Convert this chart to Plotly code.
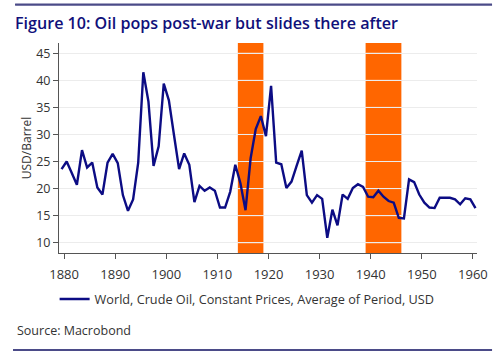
import plotly.graph_objects as go

years = list(range(1879, 1961))
oil_usd_per_barrel = [
    23.6, 25.0, 22.9, 20.7, 27.1, 23.9, 24.8, 20.2, 18.9, 24.8,   # 1879-1888
    26.4, 24.7, 18.8, 15.9, 18.0, 24.8, 41.5, 36.1, 24.2, 27.8,   # 1889-1898
    39.4, 36.3, 29.9, 23.6, 26.5, 24.4, 17.5, 20.5, 19.6, 20.2,   # 1899-1908
    19.6, 16.5, 16.5, 19.4, 24.4, 21.0, 16.0, 25.6, 31.0, 33.4,   # 1909-1918
    29.7, 39.0, 24.8, 24.5, 20.1, 21.3, 24.2, 27.0, 18.8, 17.4,   # 1919-1928
    18.8, 18.1, 10.9, 16.1, 13.2, 18.9, 18.1, 20.1, 20.8, 20.3,   # 1929-1938
    18.5, 18.4, 19.6, 18.5, 17.7, 17.4, 14.6, 14.5, 21.7, 21.2,   # 1939-1948
    18.9, 17.4, 16.5, 16.4, 18.3, 18.3, 18.3, 18.0, 17.1, 18.2,   # 1949-1958
    18.0, 16.4,                                                   # 1959-1960
]
war_periods = [(1914, 1919), (1939, 1946)]
x_tick_years = [1880, 1890, 1900, 1910, 1920, 1930, 1940, 1950, 1960]
y_tick_values = [10, 15, 20, 25, 30, 35, 40, 45]
series_name = "World, Crude Oil, Constant Prices, Average of Period, USD"

FONT = "Open Sans"
NAVY = "#10107a"
RULE = "#4b4b88"
GRID = "#ececec"

fig = go.Figure()
fig.add_trace(go.Scatter(
    x=[y + 0.5 for y in years], y=oil_usd_per_barrel, mode="lines",
    name=series_name, line=dict(color="#0c0c84", width=2.4),
))

for a, b in war_periods:
    fig.add_shape(type="rect", xref="x", yref="paper", x0=a, x1=b, y0=0, y1=1,
                  fillcolor="#ff6600", line_width=0, layer="below")
    # gridlines show through the shaded war periods
    for v in y_tick_values:
        fig.add_shape(type="line", xref="x", yref="y", x0=a, x1=b, y0=v, y1=v,
                      line=dict(color="rgba(255,255,255,0.85)", width=1), layer="below")

# top page rule (drawn as a thin filled annotation box) and bottom page rule
fig.add_annotation(text="", xref="paper", yref="paper", x=0.4653, y=1.1824,
                   xanchor="center", yanchor="middle", width=477, height=1,
                   bgcolor=RULE, borderpad=0, borderwidth=0, showarrow=False,
                   font=dict(size=1))
fig.add_shape(type="line", xref="paper", yref="paper", x0=-0.105, x1=1.036,
              y0=1.1824, y1=1.1824, line=dict(color=RULE, width=2.2), layer="above")
fig.add_shape(type="line", xref="paper", yref="paper", x0=-0.110, x1=1.036,
              y0=-0.462, y1=-0.462, line=dict(color=RULE, width=2.2), layer="above")

fig.add_annotation(text="Source: Macrobond", xref="paper", yref="paper",
                   x=-0.105, y=-0.37, xanchor="left", yanchor="middle",
                   showarrow=False, font=dict(family=FONT, size=12.5, color="#333333"))

fig.update_layout(
    width=500, height=356,
    margin=dict(l=59, r=23, t=43, b=103, autoexpand=False),
    paper_bgcolor="white", plot_bgcolor="white",
    font=dict(family=FONT, size=12, color="#333333"),
    title=dict(text="Figure 10: Oil pops post-war but slides there after",
               xref="container", yref="container", x=0.03, y=1 - 23 / 356,
               xanchor="left", yanchor="middle",
               font=dict(family=FONT, size=16.1, color=NAVY, weight=600)),
    showlegend=True,
    legend=dict(orientation="h", x=-0.0105, xanchor="left", y=-0.22, yanchor="middle",
                font=dict(family=FONT, size=12.7, color="#333333"),
                bgcolor="rgba(0,0,0,0)"),
    xaxis=dict(range=[1879.0, 1960.8], tickvals=x_tick_years, showgrid=False,
               showline=True, linecolor="#555555", linewidth=1, automargin=False,
               ticks="outside", ticklen=5, tickcolor="#555555", ticklabelstandoff=4,
               tickfont=dict(size=13), zeroline=False),
    yaxis=dict(range=[8.1, 46.9], tickvals=y_tick_values, showgrid=True,
               gridcolor=GRID, gridwidth=1, automargin=False,
               showline=True, linecolor="#555555", linewidth=1,
               ticks="outside", ticklen=5, tickcolor="#555555",
               tickfont=dict(size=12.5), zeroline=False,
               title=dict(text="USD/Barrel", standoff=2, font=dict(size=12))),
)

fig.write_html("out.html", config={"displayModeBar": False},
               post_script="document.body.style.margin='0';")
